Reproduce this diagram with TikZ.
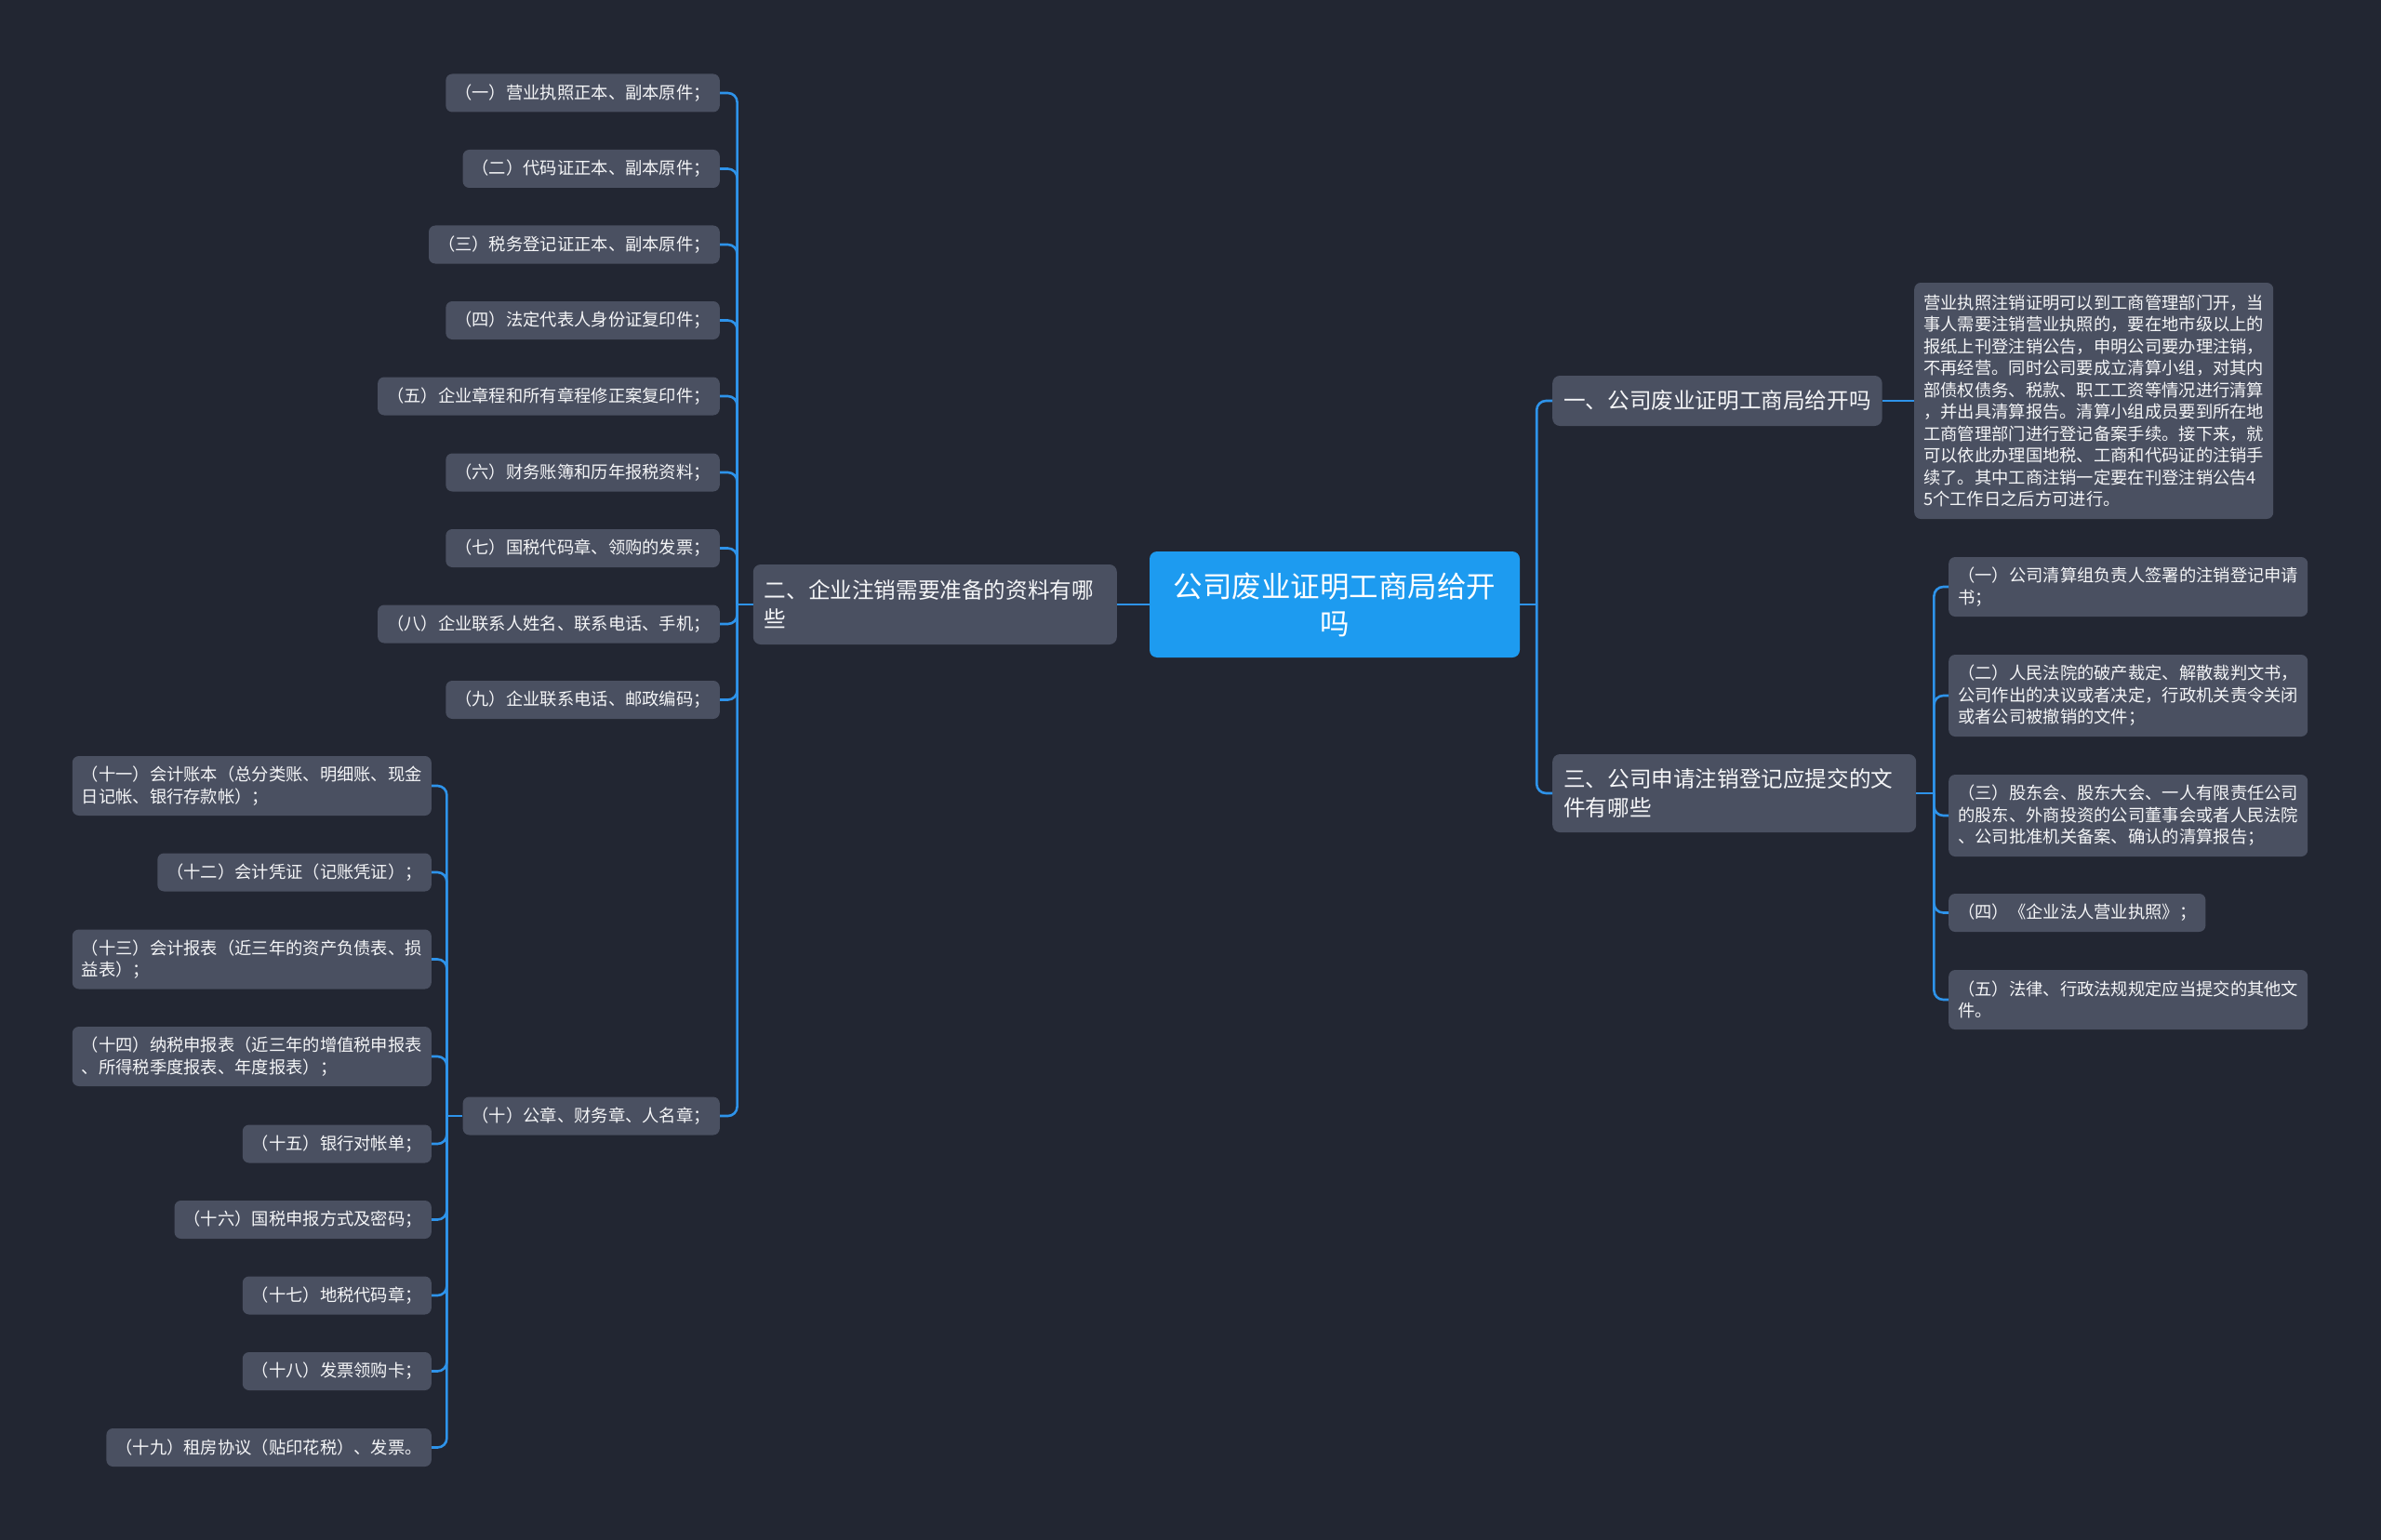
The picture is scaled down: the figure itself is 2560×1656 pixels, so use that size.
\documentclass[tikz,border=0pt]{standalone}
\usepackage{fontspec}
\setmainfont{Noto Sans CJK SC}
\definecolor{bgc}{HTML}{222632}
\definecolor{nodec}{HTML}{4A5061}
\definecolor{linec}{HTML}{2E93EA}
\definecolor{rootc}{HTML}{1D9BF0}
\definecolor{txtc}{HTML}{F4F5F7}
\begin{document}
\begin{tikzpicture}[x=1pt,y=-1pt,
  conn/.style={draw=linec, line width=2.6pt, rounded corners=10pt},
  rootbox/.style={fill=rootc, text=white, rounded corners=8pt, text width=374pt, align=center,
    inner xsep=12pt, inner ysep=0pt, minimum height=114pt, font=\fontsize{31.5}{40}\selectfont},
  branchbox/.style={fill=nodec, text=txtc, rounded corners=8pt, align=left,
    inner xsep=12pt, inner ysep=0pt, font=\fontsize{23.6}{31}\selectfont},
  itembox/.style={fill=nodec, text=txtc, rounded corners=7pt, align=left,
    inner xsep=10pt, inner ysep=0pt, minimum height=41pt, font=\fontsize{18.3}{23.5}\selectfont},
  two/.style={minimum height=64pt},
  three/.style={minimum height=88pt}]
\fill[bgc] (0,0) rectangle (2560,1656);
\useasboundingbox (0,0) rectangle (2560,1656);

% root and branches
\node[rootbox] (root) at (1435,650) {公司废业证明工商局给开\\吗};
\node[branchbox, text width=367pt, minimum height=86pt, anchor=east] (b2) at (1201,650) {二、企业注销需要准备的资料有哪\\些};
\node[branchbox, minimum height=54pt, anchor=west] (b1) at (1669,431) {一、公司废业证明工商局给开吗};
\node[branchbox, text width=367pt, minimum height=84pt, anchor=west] (b3) at (1669,853) {三、公司申请注销登记应提交的文\\件有哪些};

% detail of branch 1
\node[itembox, minimum height=254pt, anchor=west] (d1) at (2058,431) {营业执照注销证明可以到工商管理部门开，当\\事人需要注销营业执照的，要在地市级以上的\\报纸上刊登注销公告，申明公司要办理注销，\\不再经营。同时公司要成立清算小组，对其内\\部债权债务、税款、职工工资等情况进行清算\\，并出具清算报告。清算小组成员要到所在地\\工商管理部门进行登记备案手续。接下来，就\\可以依此办理国地税、工商和代码证的注销手\\续了。其中工商注销一定要在刊登注销公告4\\5个工作日之后方可进行。};

% branch 3 items
\node[itembox, two, anchor=west] (r1) at (2095,631) {（一）公司清算组负责人签署的注销登记申请\\书；};
\node[itembox, three, anchor=west] (r2) at (2095,748) {（二）人民法院的破产裁定、解散裁判文书，\\公司作出的决议或者决定，行政机关责令关闭\\或者公司被撤销的文件；};
\node[itembox, three, anchor=west] (r3) at (2095,877) {（三）股东会、股东大会、一人有限责任公司\\的股东、外商投资的公司董事会或者人民法院\\、公司批准机关备案、确认的清算报告；};
\node[itembox, anchor=west] (r4) at (2095,981.5) {（四）《企业法人营业执照》；};
\node[itembox, two, anchor=west] (r5) at (2095,1075) {（五）法律、行政法规规定应当提交的其他文\\件。};

% branch 2 items
\node[itembox, anchor=east] (l1) at (774,100) {（一）营业执照正本、副本原件；};
\node[itembox, anchor=east] (l2) at (774,181.5) {（二）代码证正本、副本原件；};
\node[itembox, anchor=east] (l3) at (774,263) {（三）税务登记证正本、副本原件；};
\node[itembox, anchor=east] (l4) at (774,344.5) {（四）法定代表人身份证复印件；};
\node[itembox, anchor=east] (l5) at (774,426) {（五）企业章程和所有章程修正案复印件；};
\node[itembox, anchor=east] (l6) at (774,508) {（六）财务账簿和历年报税资料；};
\node[itembox, anchor=east] (l7) at (774,589.5) {（七）国税代码章、领购的发票；};
\node[itembox, anchor=east] (l8) at (774,671) {（八）企业联系人姓名、联系电话、手机；};
\node[itembox, anchor=east] (l9) at (774,752.5) {（九）企业联系电话、邮政编码；};
\node[itembox, anchor=east] (l10) at (774,1200) {（十）公章、财务章、人名章；};

% sub items of (十)
\node[itembox, two, anchor=east] (s11) at (464,845) {（十一）会计账本（总分类账、明细账、现金\\日记帐、银行存款帐）；};
\node[itembox, anchor=east] (s12) at (464,938) {（十二）会计凭证（记账凭证）；};
\node[itembox, two, anchor=east] (s13) at (464,1031.5) {（十三）会计报表（近三年的资产负债表、损\\益表）；};
\node[itembox, two, anchor=east] (s14) at (464,1136) {（十四）纳税申报表（近三年的增值税申报表\\、所得税季度报表、年度报表）；};
\node[itembox, anchor=east] (s15) at (464,1230) {（十五）银行对帐单；};
\node[itembox, anchor=east] (s16) at (464,1311.5) {（十六）国税申报方式及密码；};
\node[itembox, anchor=east] (s17) at (464,1393) {（十七）地税代码章；};
\node[itembox, anchor=east] (s18) at (464,1474.5) {（十八）发票领购卡；};
\node[itembox, anchor=east] (s19) at (464,1556.5) {（十九）租房协议（贴印花税）、发票。};

% connectors
\draw[conn] (root.west) -- (b2.east);
\draw[conn] (root.east) -- ++(18,0) coordinate (rj);
\foreach \n in {b1,b3} \draw[conn] (rj) |- (\n.west);
\draw[conn] (b1.east) -- (d1.west);
\draw[conn] (b3.east) -- ++(19,0) coordinate (tj);
\foreach \n in {r1,r2,r3,r4,r5} \draw[conn] (tj) |- (\n.west);
\draw[conn] (b2.west) -- ++(-17,0) coordinate (lj);
\foreach \n in {l1,l2,l3,l4,l5,l6,l7,l8,l9,l10} \draw[conn] (lj) |- (\n.east);
\draw[conn] (l10.west) -- ++(-17,0) coordinate (sj);
\foreach \n in {s11,s12,s13,s14,s15,s16,s17,s18,s19} \draw[conn] (sj) |- (\n.east);
\end{tikzpicture}
\end{document}
